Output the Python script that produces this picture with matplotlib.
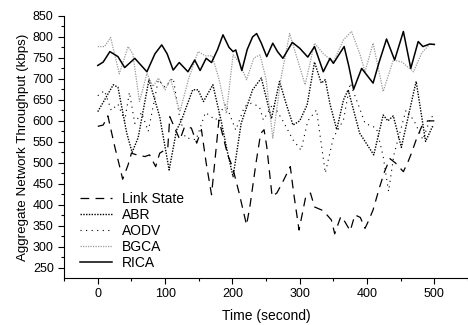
import matplotlib
matplotlib.use("Agg")
import matplotlib.pyplot as plt
from matplotlib.ticker import MultipleLocator

plt.rcParams['font.family'] = ['Liberation Sans', 'DejaVu Sans']

# ---- data ----
ls_t = [0, 8, 15, 25, 33, 37, 45, 50, 58, 70, 77, 86, 92, 104, 107, 122, 129, 139, 147, 154, 161, 169, 180,
        193, 200, 210, 221, 226, 235, 242, 247, 251, 259, 266, 274, 286, 291, 299, 309, 316, 322, 335, 347,
        352, 361, 367, 375, 382, 390, 397, 402, 409, 419, 426, 434, 442, 454, 461, 466, 473, 481, 490, 500]
ls_v = [587, 590, 612, 540, 488, 461, 495, 523, 519, 515, 519, 491, 523, 535, 610, 555, 586, 583, 547, 579, 500, 424, 602,
        519, 491, 428, 352, 396, 499, 570, 579, 539, 420, 428, 452, 491, 428, 340, 420, 428, 395, 386, 364,
        331, 372, 360, 338, 376, 370, 344, 361, 388, 444, 479, 510, 500, 479, 503, 523, 555, 586, 600, 600]

abr_t = [0, 13, 23, 30, 43, 51, 60, 76, 92, 106, 117, 124, 141, 149, 157, 171, 183, 193, 201, 213, 230, 243,
         258, 270, 280, 290, 300, 311, 322, 332, 338, 345, 355, 365, 372, 389, 410, 424, 431, 439, 451, 469,
         473, 487, 497, 500]
abr_v = [622, 658, 686, 680, 571, 525, 560, 698, 610, 483, 578, 600, 674, 674, 646, 686, 602, 523, 467, 594, 674, 702,
         605, 694, 640, 590, 600, 638, 740, 690, 698, 640, 579, 650, 674, 571, 519, 614, 600, 612, 537, 666,
         694, 551, 586, 586]

aodv_t = [0, 10, 20, 30, 40, 47, 55, 65, 75, 90, 100, 112, 121, 130, 146, 160, 175, 190, 205, 218, 228, 240,
          246, 260, 275, 290, 302, 312, 325, 338, 350, 365, 375, 389, 397, 414, 424, 432, 440, 458, 470, 483,
          495, 500]
aodv_v = [660, 672, 625, 640, 600, 668, 594, 620, 575, 698, 680, 702, 614, 560, 555, 620, 602, 640, 578, 634, 642, 634,
          602, 640, 600, 555, 530, 600, 626, 476, 560, 602, 690, 630, 594, 583, 515, 432, 520, 626, 600, 555,
          610, 610]

bgca_t = [0, 10, 19, 32, 45, 52, 62, 73, 82, 90, 100, 108, 122, 135, 149, 160, 170, 180, 191, 201, 210, 221,
          232, 241, 250, 260, 272, 285, 296, 308, 322, 335, 350, 365, 377, 389, 397, 409, 424, 439, 452, 469,
          481, 493, 500]
bgca_v = [777, 777, 799, 712, 777, 760, 646, 713, 682, 702, 674, 700, 622, 700, 765, 755, 755, 700, 618, 757, 740, 698,
          750, 757, 700, 559, 700, 808, 750, 686, 785, 760, 740, 793, 813, 761, 717, 785, 670, 745, 740, 717,
          761, 783, 783]

rica_t = [0, 8, 18, 30, 40, 55, 73, 85, 95, 103, 112, 121, 134, 144, 152, 161, 169, 178, 186, 195, 201, 205,
          214, 222, 230, 236, 243, 251, 260, 267, 275, 289, 300, 312, 322, 335, 345, 350, 366, 373, 380, 392,
          409, 418, 429, 441, 454, 465, 476, 483, 493, 500]
rica_v = [732, 740, 765, 753, 727, 749, 717, 760, 781, 760, 721, 739, 717, 745, 720, 749, 739, 770, 805, 775, 765, 769,
          720, 770, 800, 808, 785, 753, 785, 765, 749, 787, 773, 752, 777, 717, 749, 737, 777, 730, 675, 725,
          690, 740, 795, 745, 813, 725, 789, 777, 783, 782]

x_ticks = [0, 100, 200, 300, 400, 500]
y_ticks = [250, 300, 350, 400, 450, 500, 550, 600, 650, 700, 750, 800, 850]

# ---- figure ----
fig = plt.figure(figsize=(4.68, 3.25), dpi=100)
ax = fig.add_axes([0.137, 0.145, 0.863, 0.806])

ax.plot(ls_t, ls_v, color='black', lw=0.9, linestyle=(0, (7, 5)), label='Link State')
ax.plot(abr_t, abr_v, color='black', lw=1.0, linestyle=(0, (1, 1)), label='ABR')
ax.plot(aodv_t, aodv_v, color='black', lw=0.8, linestyle=(0, (1, 4)), label='AODV')
ax.plot(bgca_t, bgca_v, color='#9a9a9a', lw=0.9, linestyle=(0, (1, 1)), label='BGCA')
ax.plot(rica_t, rica_v, color='black', lw=1.1, linestyle='-', label='RICA')

ax.set_xlim(-50, 550)
ax.set_ylim(226, 850)
ax.set_xticks(x_ticks)
ax.set_yticks(y_ticks)
ax.xaxis.set_minor_locator(MultipleLocator(50))
ax.yaxis.set_minor_locator(MultipleLocator(25))
ax.tick_params(which='both', direction='out', labelsize=9, width=0.8)
ax.tick_params(which='major', length=4)
ax.tick_params(which='minor', length=2)
ax.spines['top'].set_visible(False)
ax.spines['right'].set_visible(False)

ax.set_xlabel('Time (second)', fontsize=10, labelpad=6)
ax.set_ylabel('Aggregate Network Throughput (kbps)', fontsize=9.6, labelpad=3)

leg = ax.legend(loc='lower left', frameon=False, fontsize=10, handlelength=2.3,
                handletextpad=0.7, labelspacing=0.15, borderpad=0.0, borderaxespad=0.0,
                bbox_to_anchor=(0.04, 0.03))

fig.savefig('out.png', dpi=100)
